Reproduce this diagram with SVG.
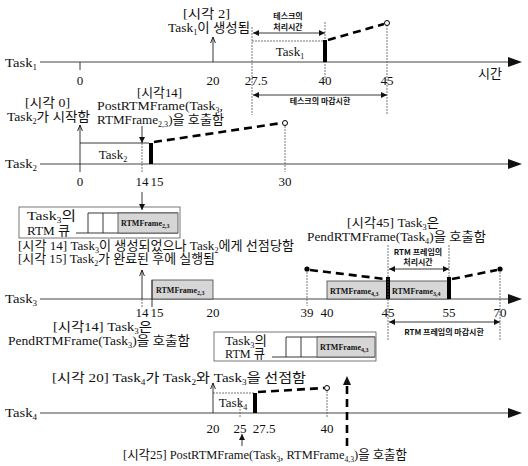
<svg xmlns="http://www.w3.org/2000/svg" width="528" height="466" viewBox="0 0 528 466">
<style>
text{font-family:"Liberation Serif","Noto Sans CJK KR",serif;font-size:13px;fill:#111}
.tk{font-size:13px}
.sm{font-size:8px;font-weight:bold;font-family:"Noto Sans CJK KR","Liberation Sans",sans-serif}
.fr{font-size:8px;font-weight:bold}
.mid{text-anchor:middle}
.s{font-size:8px;baseline-shift:-3px}
.s6{font-size:6px;baseline-shift:-2px}
.axis{stroke:#444;stroke-width:1;fill:none}
.thin{stroke:#555;stroke-width:0.8;fill:none;stroke-dasharray:2 1}
.solid{stroke:#222;stroke-width:0.9;fill:none}
.dash{stroke:#000;stroke-width:2.6;fill:none;stroke-dasharray:8 5}
.bar{fill:#000}
.shade{fill:#d6d6d6;stroke:#444;stroke-width:0.8}
.qbox{fill:#fff;stroke:#555;stroke-width:0.8}
.dot{fill:#000}
.odot{fill:#fff;stroke:#000;stroke-width:1}
.ah{fill:#111}
</style>
<defs>
<marker id="tri" viewBox="0 0 10 10" refX="10" refY="5" markerWidth="8" markerHeight="6" markerUnits="userSpaceOnUse" orient="auto-start-reverse"><path d="M0,0 L10,5 L0,10 z" fill="#111"/></marker>
<marker id="up" viewBox="0 0 10 10" refX="10" refY="5" markerWidth="7" markerHeight="6" markerUnits="userSpaceOnUse" orient="auto"><path d="M0,1 L10,5 L0,9" fill="none" stroke="#111" stroke-width="1.5"/></marker>
</defs>
<rect width="528" height="466" fill="#fff"/>

<!-- Task1 timeline -->
<g id="task1">
<text x="5" y="67" textLength="32" lengthAdjust="spacingAndGlyphs">Task<tspan class="s">1</tspan></text>
<line class="axis" x1="40" y1="62" x2="510" y2="62"/>
<path class="ah" d="M508,57 L522,62 L508,67 z"/>
<line class="solid" x1="80" y1="62" x2="80" y2="70"/>
<line class="thin" x1="252" y1="27" x2="252" y2="115"/>
<line class="thin" x1="325" y1="22" x2="325" y2="80"/>
<line class="thin" x1="387" y1="22" x2="387" y2="114"/>
<line class="thin" x1="252" y1="41" x2="325" y2="41"/>
<rect class="bar" x="323" y="40" width="4" height="22"/>
<text class="mid" x="290" y="56">Task<tspan class="s">1</tspan></text>
<text class="mid tk" x="80" y="85">0</text>
<text class="mid tk" x="213" y="85">20</text>
<text class="mid tk" x="256" y="85">27.5</text>
<text class="mid tk" x="325" y="85">40</text>
<text class="mid tk" x="387" y="85">45</text>
<text x="478" y="78">시간</text>
<text class="sm mid" x="288" y="19">테스크의</text>
<text class="sm mid" x="288" y="30">처리시간</text>
<text class="sm mid" x="320" y="104">테스크의 마감시한</text>
</g>

<g id="note-t2">
<text x="183" y="18" textLength="47" lengthAdjust="spacingAndGlyphs">[시각 2]</text>
<text x="168" y="32" textLength="82" lengthAdjust="spacingAndGlyphs">Task<tspan class="s">1</tspan>이 생성됨</text>
</g>

<!-- Task2 timeline -->
<g id="task2">
<text x="5" y="168" textLength="32" lengthAdjust="spacingAndGlyphs">Task<tspan class="s">2</tspan></text>
<line class="axis" x1="40" y1="164" x2="510" y2="164"/>
<path class="ah" d="M508,159 L522,164 L508,169 z"/>
<line class="solid" x1="80" y1="143" x2="149" y2="143"/>
<rect class="bar" x="149" y="143" width="4" height="21"/>
<text class="mid" x="113" y="159">Task<tspan class="s">2</tspan></text>
<line class="thin" x1="142" y1="143" x2="142" y2="173"/>
<line class="thin" x1="285" y1="123" x2="285" y2="172"/>
<text class="mid tk" x="80" y="186">0</text>
<text class="mid tk" x="142" y="186">14</text>
<text class="mid tk" x="157" y="186">15</text>
<text class="mid tk" x="285" y="186">30</text>
</g>

<g id="note-t0">
<text x="25" y="107" textLength="45" lengthAdjust="spacingAndGlyphs">[시각 0]</text>
<text x="7" y="121" textLength="83" lengthAdjust="spacingAndGlyphs">Task<tspan class="s">2</tspan>가 시작함</text>
</g>
<g id="note-t14post">
<text x="137" y="97" textLength="45" lengthAdjust="spacingAndGlyphs">[시각14]</text>
<text x="97" y="110" textLength="126" lengthAdjust="spacingAndGlyphs">PostRTMFrame(Task<tspan class="s">3</tspan>,</text>
<text x="97" y="124" textLength="127" lengthAdjust="spacingAndGlyphs">RTMFrame<tspan class="s">2,3</tspan>)을 호출함</text>
</g>

<!-- Queue 1 -->
<g id="queue1">
<rect class="qbox" x="19" y="207" width="161" height="31"/>
<text x="27" y="220" textLength="49" lengthAdjust="spacingAndGlyphs">Task<tspan class="s">3</tspan>의</text>
<text x="27" y="235" textLength="43" lengthAdjust="spacingAndGlyphs">RTM 큐</text>
<line class="solid" x1="88" y1="213" x2="178" y2="213"/>
<line class="solid" x1="76" y1="233" x2="178" y2="233"/>
<line class="solid" x1="88" y1="213" x2="88" y2="233"/>
<line class="solid" x1="103" y1="213" x2="103" y2="233"/>
<rect class="shade" x="118" y="213" width="60" height="20"/>
<text class="fr" x="121" y="226">RTMFrame<tspan class="s6">2,3</tspan></text>
</g>

<g id="note-t14created">
<text x="18" y="250" textLength="276" lengthAdjust="spacingAndGlyphs">[시각 14] Task<tspan class="s">3</tspan>이 생성되었으나 Task<tspan class="s">2</tspan>에게 선점당함</text>
<text x="18" y="263" textLength="197" lengthAdjust="spacingAndGlyphs">[시각 15] Task<tspan class="s">2</tspan>가 완료된 후에 실행됨</text>
</g>

<g id="note-t45">
<text x="347" y="227" textLength="92" lengthAdjust="spacingAndGlyphs">[시각45] Task<tspan class="s">3</tspan>은</text>
<text x="307" y="241" textLength="179" lengthAdjust="spacingAndGlyphs">PendRTMFrame(Task<tspan class="s">4</tspan>)을 호출함</text>
</g>

<!-- Task3 timeline -->
<g id="task3">
<text x="5" y="303" textLength="32" lengthAdjust="spacingAndGlyphs">Task<tspan class="s">3</tspan></text>
<line class="axis" x1="40" y1="299" x2="510" y2="299"/>
<path class="ah" d="M508,294 L522,299 L508,304 z"/>
<line class="thin" x1="142" y1="299" x2="142" y2="307"/>
<rect class="shade" x="152" y="280" width="61" height="19"/>
<line class="solid" x1="152" y1="280" x2="152" y2="307"/>
<text class="fr" x="156" y="293">RTMFrame<tspan class="s6">2,3</tspan></text>
<line class="thin" x1="307" y1="269" x2="307" y2="306"/>
<rect class="shade" x="327" y="281" width="60" height="18"/>
<text class="fr" x="330" y="294">RTMFrame<tspan class="s6">4,3</tspan></text>
<rect class="shade" x="388" y="281" width="61" height="18"/>
<text class="fr" x="392" y="294">RTMFrame<tspan class="s6">3,4</tspan></text>
<rect class="bar" x="386" y="277" width="4" height="22"/>
<rect class="bar" x="447" y="277" width="4" height="22"/>
<line class="thin" x1="388" y1="245" x2="388" y2="340"/>
<line class="thin" x1="449" y1="245" x2="449" y2="277"/>
<line class="thin" x1="500" y1="269" x2="500" y2="340"/>
<circle class="dot" cx="307" cy="269" r="2.6"/>
<circle class="dot" cx="500" cy="269" r="2.6"/>
<text class="mid tk" x="142" y="317">14</text>
<text class="mid tk" x="157" y="317">15</text>
<text class="mid tk" x="213" y="317">20</text>
<text class="mid tk" x="307" y="317">39</text>
<text class="mid tk" x="327" y="317">40</text>
<text class="mid tk" x="388" y="317">45</text>
<text class="mid tk" x="449" y="317">55</text>
<text class="mid tk" x="500" y="317">70</text>
<text class="sm mid" x="418" y="255">RTM 프레임의</text>
<text class="sm mid" x="418" y="265">처리시간</text>
<text class="sm mid" x="444" y="335">RTM 프레임의 마감시한</text>
</g>

<g id="note-t14pend">
<text x="53" y="331" textLength="99" lengthAdjust="spacingAndGlyphs">[시각14] Task<tspan class="s">3</tspan>은</text>
<text x="8" y="345" textLength="182" lengthAdjust="spacingAndGlyphs">PendRTMFrame(Task<tspan class="s">3</tspan>)을 호출함</text>
</g>

<!-- Queue 2 -->
<g id="queue2">
<rect class="qbox" x="214" y="332" width="162" height="29"/>
<text x="225" y="345" textLength="42" lengthAdjust="spacingAndGlyphs">Task<tspan class="s">3</tspan>의</text>
<text x="225" y="358" textLength="40" lengthAdjust="spacingAndGlyphs">RTM 큐</text>
<line class="solid" x1="286" y1="337" x2="375" y2="337"/>
<line class="solid" x1="272" y1="357" x2="375" y2="357"/>
<line class="solid" x1="286" y1="337" x2="286" y2="357"/>
<line class="solid" x1="301" y1="337" x2="301" y2="357"/>
<rect class="shade" x="317" y="337" width="58" height="20"/>
<text class="fr" x="320" y="350">RTMFrame<tspan class="s6">4,3</tspan></text>
</g>

<g id="note-t20">
<text x="52" y="382" textLength="254" lengthAdjust="spacingAndGlyphs">[시각 20] Task<tspan class="s">4</tspan>가 Task<tspan class="s">2</tspan>와 Task<tspan class="s">3</tspan>을 선점함</text>
</g>

<!-- Task4 timeline -->
<g id="task4">
<text x="5" y="417" textLength="32" lengthAdjust="spacingAndGlyphs">Task<tspan class="s">4</tspan></text>
<line class="axis" x1="40" y1="413" x2="510" y2="413"/>
<path class="ah" d="M508,408 L522,413 L508,418 z"/>
<line class="thin" x1="213" y1="393" x2="255" y2="393"/>
<rect class="bar" x="253" y="393" width="4" height="20"/>
<text class="mid" x="233" y="407">Task<tspan class="s">4</tspan></text>
<line class="thin" x1="240" y1="400" x2="240" y2="417"/>
<line class="thin" x1="327" y1="388" x2="327" y2="418"/>
<text class="mid tk" x="213" y="433">20</text>
<text class="mid tk" x="240" y="433">25</text>
<text class="mid tk" x="264" y="433">27.5</text>
<text class="mid tk" x="327" y="433">40</text>
</g>

<g id="note-t25">
<text x="123" y="459" textLength="284" lengthAdjust="spacingAndGlyphs">[시각25] PostRTMFrame(Task<tspan class="s">3</tspan>, RTMFrame<tspan class="s">4,3</tspan>)을 호출함</text>
</g>

<!-- connectors -->
<g id="connectors">
<line class="solid" x1="213" y1="62" x2="213" y2="37" marker-end="url(#up)"/>
<line class="solid" x1="253" y1="33" x2="325" y2="33" marker-start="url(#tri)" marker-end="url(#tri)"/>
<line class="solid" x1="253" y1="95" x2="387" y2="95" marker-start="url(#tri)" marker-end="url(#tri)"/>
<path class="dash" d="M328,40 L384,24"/>
<circle class="odot" cx="387" cy="23" r="2.5"/>
<line class="solid" x1="80" y1="172" x2="80" y2="125" marker-end="url(#up)"/>
<line class="solid" x1="142" y1="126" x2="142" y2="143" marker-end="url(#tri)"/>
<path class="dash" d="M154,142 L282,123"/>
<circle class="odot" cx="285" cy="123" r="2.5"/>
<line class="solid" x1="142" y1="192" x2="142" y2="210" marker-end="url(#tri)"/>
<line class="solid" x1="142" y1="299" x2="142" y2="270" marker-end="url(#up)"/>
<path class="dash" d="M310,270 L385,279"/>
<path class="dash" d="M452,279 L497,270"/>
<line class="solid" x1="389" y1="269" x2="449" y2="269" marker-start="url(#tri)" marker-end="url(#tri)"/>
<line class="solid" x1="389" y1="322" x2="500" y2="322" marker-start="url(#tri)" marker-end="url(#tri)"/>
<line class="solid" x1="213" y1="413" x2="213" y2="383" marker-end="url(#up)"/>
<path class="dash" d="M258,392 L324,388"/>
<circle class="odot" cx="327" cy="388" r="2.5"/>
<line class="solid" x1="242" y1="446" x2="242" y2="434" marker-end="url(#tri)"/>
<path class="dash" d="M347,446 L347,384"/>
<path class="ah" d="M343,385 L347,376 L351,385 z"/>
</g>
</svg>
